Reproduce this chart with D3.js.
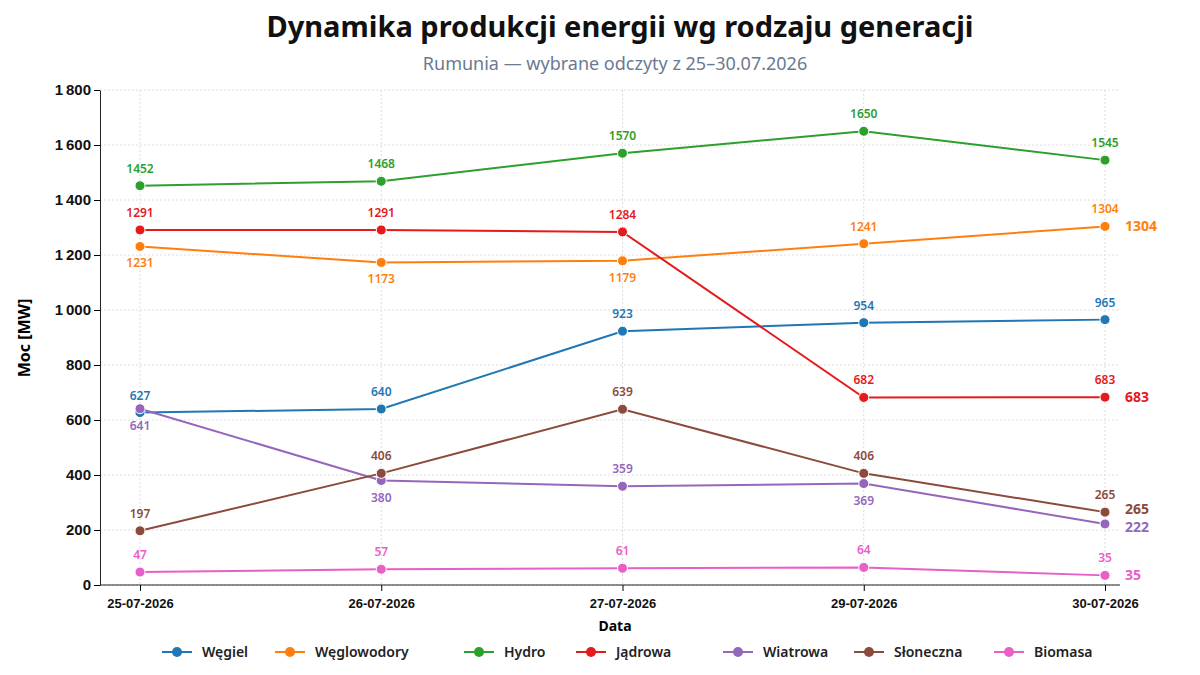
<!DOCTYPE html>
<html><head><meta charset="utf-8">
<script src="https://cdn.jsdelivr.net/npm/d3@7"></script>
<style>body{margin:0;background:#fff;font-family:"Noto Sans",sans-serif}</style>
</head><body><div id="chart"></div>
<script>
const dates = ['25-07-2026','26-07-2026','27-07-2026','29-07-2026','30-07-2026'];
const names = ['Węgiel','Węglowodory','Hydro','Jądrowa','Wiatrowa','Słoneczna','Biomasa'];
const colors = ['#1f77b4','#ff7f0e','#2ca02c','#e41a1c','#9467bd','#8c4a3c','#e85fc8'];
const wegiel = [627,640,923,954,965];
const weglowodory = [1231,1173,1179,1241,1304];
const hydro = [1452,1468,1570,1650,1545];
const jadrowa = [1291,1291,1284,682,683];
const wiatrowa = [641,380,359,369,222];
const sloneczna = [197,406,639,406,265];
const biomasa = [47,57,61,64,35];
const yTicks = [0,200,400,600,800,1000,1200,1400,1600,1800];
// label side per series per point: -1 above, 1 below
const sides = [[-1,-1,-1,-1,-1],[1,1,1,-1,-1],[-1,-1,-1,-1,-1],[-1,-1,-1,-1,-1],[1,1,-1,1,0],[-1,-1,-1,-1,-1],[-1,-1,-1,-1,-1]];
const endLabel = [false,true,false,true,true,true,true];
const endShift = [0,0,0,0,3,-3,0];
const series = [wegiel,weglowodory,hydro,jadrowa,wiatrowa,sloneczna,biomasa];

const W=1200,H=675;
const svg=d3.select('#chart').append('svg').attr('width',W).attr('height',H);
const x=d3.scalePoint().domain(dates).range([140,1105]);
const y=d3.scaleLinear().domain([0,1800]).range([585,90]);

svg.append('text').attr('x',620).attr('y',37).attr('text-anchor','middle')
  .attr('font-size',29).attr('font-weight',700).attr('fill','#111').text('Dynamika produkcji energii wg rodzaju generacji');
svg.append('text').attr('x',615).attr('y',70).attr('text-anchor','middle')
  .attr('font-size',18).attr('fill','#6b7a90').text('Rumunia — wybrane odczyty z 25–30.07.2026');

// grid
const g=svg.append('g');
g.selectAll('.hg').data(yTicks).join('line').attr('x1',100).attr('x2',1120)
  .attr('y1',d=>y(d)).attr('y2',d=>y(d)).attr('stroke','#ddd').attr('stroke-dasharray','2,2');
g.selectAll('.vg').data(dates).join('line').attr('y1',90).attr('y2',585)
  .attr('x1',d=>x(d)).attr('x2',d=>x(d)).attr('stroke','#ddd').attr('stroke-dasharray','2,2');

const fmt=d=>d3.format(',')(d).replace(',','\u2009');
const ya=svg.append('g').attr('transform','translate(100,0)')
  .call(d3.axisLeft(y).tickValues(yTicks).tickFormat(d=>d>=1000?fmt(d):d).tickSizeOuter(0));
ya.selectAll('text').attr('font-size',15).attr('font-weight',600).attr('fill','#111');
ya.select('.domain').attr('stroke','#222');
const xa=svg.append('g').attr('transform','translate(0,585)')
  .call(d3.axisBottom(x).tickSizeOuter(0));
xa.select('.domain').attr('d','M100,0H1120').attr('stroke','#222');
xa.selectAll('text').attr('font-size',13).attr('font-weight',700).attr('fill','#111').attr('dy','1.1em');
svg.append('text').attr('x',615).attr('y',631).attr('text-anchor','middle').attr('font-size',14).attr('font-weight',700).text('Data');
svg.append('text').attr('transform','translate(30,338) rotate(-90)').attr('text-anchor','middle').attr('font-size',16).attr('font-weight',700).text('Moc [MW]');

const line=d3.line().x((d,i)=>x(dates[i])).y(d=>y(d));
series.forEach((s,k)=>{
  const c=colors[k];
  svg.append('path').datum(s).attr('d',line).attr('fill','none').attr('stroke',c).attr('stroke-width',2);
  svg.selectAll(null).data(s).join('circle').attr('cx',(d,i)=>x(dates[i])).attr('cy',d=>y(d))
    .attr('r',5).attr('fill',c).attr('stroke','#fff').attr('stroke-width',1);
  svg.selectAll(null).data(s).join('text').filter((d,i)=>sides[k][i]!==0)
    .attr('x',(d,i)=>x(dates[i])).attr('y',(d,i)=>y(d)+(sides[k][i]<0?-13:21))
    .attr('text-anchor','middle').attr('font-size',12).attr('font-weight',600).attr('fill',c).text(d=>d);
  if(endLabel[k]) svg.append('text').attr('x',1125).attr('y',y(s[4])+5+endShift[k])
    .attr('font-size',14).attr('font-weight',700).attr('fill',c).text(s[4]);
});

// legend
const lx=[162,275,464,576,723,854,994];
names.forEach((n,k)=>{
  const lg=svg.append('g').attr('transform',`translate(${lx[k]},652)`);
  lg.append('line').attr('x1',0).attr('x2',30).attr('stroke',colors[k]).attr('stroke-width',2);
  lg.append('circle').attr('cx',15).attr('r',5).attr('fill',colors[k]);
  lg.append('text').attr('x',40).attr('y',5).attr('font-size',14).attr('font-weight',600).attr('fill','#222').text(n);
});
</script></body></html>
